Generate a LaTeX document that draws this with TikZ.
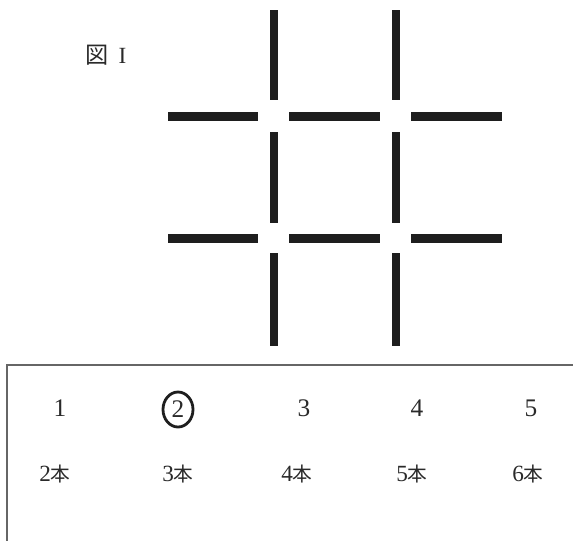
\documentclass[tikz,border=0pt]{standalone}
\usepackage{fontspec}
\setmainfont{Liberation Serif}
\newfontfamily\jpfont{Noto Sans CJK JP}
\usetikzlibrary{shapes.geometric}
\definecolor{matchInk}{HTML}{1E1E1E}
\definecolor{textInk}{HTML}{2A2A2A}
\definecolor{frameGray}{HTML}{666666}
\tikzset{
  stick/.style={draw=matchInk, line width=6pt, line cap=butt},
  frameLine/.style={draw=frameGray, line width=1pt}
}

\begin{document}
\begin{tikzpicture}[x=0.025cm, y=-0.025cm,
  figLabel/.style={font=\fontsize{16.5}{18}\selectfont, text=textInk, anchor=base, inner sep=0pt},
  choiceNum/.style={font=\fontsize{18}{20}\selectfont, text=textInk, inner sep=0pt},
  countLabel/.style={font=\fontsize{16.5}{18}\selectfont, text=textInk, anchor=base, inner sep=0pt},
  picked/.style={ellipse, draw=matchInk, line width=2pt, minimum width=0.75cm,
    minimum height=0.875cm, inner sep=0pt}
]
\useasboundingbox (0,0) rectangle (573,541);
\node[figLabel] (figKanji) at (97.5,63) {\jpfont 図};
\node[figLabel] (figNum) at (122.5,63) {I};
% vertical sticks
\draw[stick] (274,10) -- (274,100);
\draw[stick] (274,132) -- (274,223);
\draw[stick] (274,253) -- (274,346);
\draw[stick] (396,10) -- (396,100);
\draw[stick] (396,132) -- (396,223);
\draw[stick] (396,253) -- (396,346);
% horizontal sticks
\draw[stick] (168,116.5) -- (258,116.5);
\draw[stick] (289,116.5) -- (380,116.5);
\draw[stick] (411,116.5) -- (502,116.5);
\draw[stick] (168,238.5) -- (258,238.5);
\draw[stick] (289,238.5) -- (380,238.5);
\draw[stick] (411,238.5) -- (502,238.5);
% answer frame
\draw[frameLine] (573,365) -- (7,365) -- (7,541);
\node[choiceNum] (opt1) at (60,408.5) {1};
\node[choiceNum,picked] (opt2) at (178,409.5) {2};
\node[choiceNum] (opt3) at (304,408.5) {3};
\node[choiceNum] (opt4) at (417,408.5) {4};
\node[choiceNum] (opt5) at (531,408.5) {5};
\node[countLabel] (cnt1) at (55,481) {2{\jpfont\fontsize{14}{16}\selectfont 本}};
\node[countLabel] (cnt2) at (178,481) {3{\jpfont\fontsize{14}{16}\selectfont 本}};
\node[countLabel] (cnt3) at (297,481) {4{\jpfont\fontsize{14}{16}\selectfont 本}};
\node[countLabel] (cnt4) at (412,481) {5{\jpfont\fontsize{14}{16}\selectfont 本}};
\node[countLabel] (cnt5) at (528,481) {6{\jpfont\fontsize{14}{16}\selectfont 本}};
\end{tikzpicture}
\end{document}
